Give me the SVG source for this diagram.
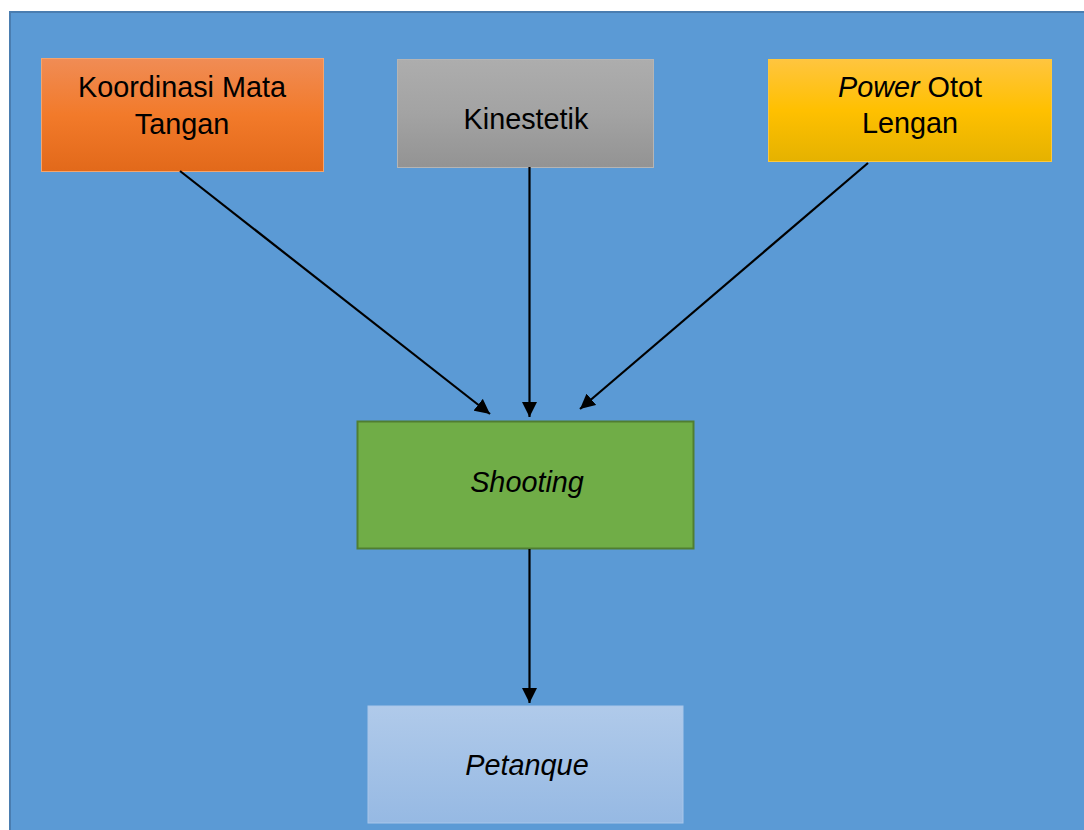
<svg xmlns="http://www.w3.org/2000/svg" width="1084" height="830" viewBox="0 0 1084 830">
<style>
.t{font-family:"Liberation Sans",Arial,sans-serif;font-size:28.8px;fill:#000;text-anchor:middle}
.i{font-style:italic}
.c{stroke:#000;stroke-width:2.2;fill:none;marker-end:url(#ah)}
</style>
<defs>
<marker id="ah" viewBox="0 0 15 15" refX="15" refY="7.5" markerWidth="15" markerHeight="15" markerUnits="userSpaceOnUse" orient="auto">
<path d="M0,0 L15,7.5 L0,15 Z" fill="#000"/>
</marker>
<linearGradient id="gOr" x1="0" y1="0" x2="0" y2="1"><stop offset="0" stop-color="#F08C55"/><stop offset="0.5" stop-color="#F27A2A"/><stop offset="1" stop-color="#E2691A"/></linearGradient>
<linearGradient id="gGr" x1="0" y1="0" x2="0" y2="1"><stop offset="0" stop-color="#ADADAD"/><stop offset="0.5" stop-color="#A3A3A3"/><stop offset="1" stop-color="#939393"/></linearGradient>
<linearGradient id="gYe" x1="0" y1="0" x2="0" y2="1"><stop offset="0" stop-color="#FFC53F"/><stop offset="0.5" stop-color="#FFC000"/><stop offset="1" stop-color="#E5B200"/></linearGradient>
<linearGradient id="gBl" x1="0" y1="0" x2="0" y2="1"><stop offset="0" stop-color="#B0CAEA"/><stop offset="1" stop-color="#96B9E3"/></linearGradient>
</defs>
<rect x="0" y="0" width="1084" height="830" fill="#fff"/>
<rect id="background" x="10" y="12" width="1080" height="830" fill="#5B9AD5" stroke="#4A7DB0" stroke-width="2"/>
<g id="koordinasi">
<rect x="41.5" y="58.5" width="282" height="113" fill="url(#gOr)" stroke="#F4A56E" stroke-width="1"/>
<text class="t" x="182" y="97">Koordinasi Mata</text>
<text class="t" x="182" y="134">Tangan</text>
</g>
<g id="kinestetik">
<rect x="397.5" y="59.5" width="256" height="108" fill="url(#gGr)" stroke="#B5B5B5" stroke-width="1"/>
<text class="t" x="526" y="129">Kinestetik</text>
</g>
<g id="power">
<rect x="768.5" y="59.5" width="283" height="102" fill="url(#gYe)" stroke="#FFC83D" stroke-width="1"/>
<text class="t" x="910" y="97"><tspan class="i">Power</tspan> Otot</text>
<text class="t" x="910" y="133">Lengan</text>
</g>
<g id="shooting">
<rect x="357.5" y="421.5" width="336" height="127" fill="#70AD47" stroke="#507E32" stroke-width="2"/>
<text class="t i" x="527" y="492">Shooting</text>
</g>
<g id="petanque">
<rect x="368" y="706" width="315" height="117" fill="url(#gBl)" stroke="#A9C6EA" stroke-width="1"/>
<text class="t i" x="527" y="775">Petanque</text>
</g>
<g id="connectors">
<line class="c" x1="180" y1="171" x2="490" y2="414"/>
<line class="c" x1="529.5" y1="167" x2="529.5" y2="417"/>
<line class="c" x1="868" y1="163" x2="580" y2="409"/>
<line class="c" x1="529.5" y1="549" x2="529.5" y2="703"/>
</g>
</svg>
